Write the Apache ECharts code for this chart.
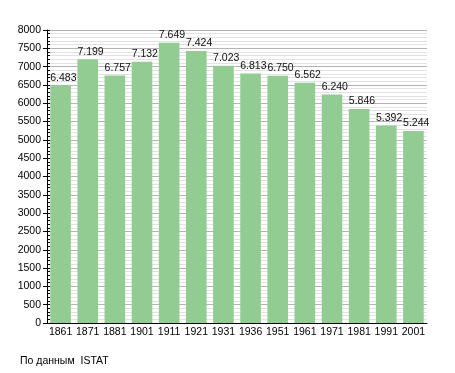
<!DOCTYPE html>
<html><head><meta charset="utf-8">
<script src="https://cdn.jsdelivr.net/npm/echarts@6/dist/echarts.min.js"></script>
<style>html,body{margin:0;padding:0;background:#fff}#c{width:455px;height:373px}</style>
</head><body><div id="c"></div>
<script>
const years = ['1861','1871','1881','1901','1911','1921','1931','1936','1951','1961','1971','1981','1991','2001'];
const population = [6483,7199,6757,7132,7649,7424,7023,6813,6750,6562,6240,5846,5392,5244];
const sourceText = 'По данным  ISTAT';
const FONT = '"Liberation Sans", Arial, sans-serif';
const chart = echarts.init(document.getElementById('c'), null, {renderer:'canvas'});
chart.setOption({
  animation:false,
  backgroundColor:'#fff',
  grid:{left:47,top:30,right:28,bottom:50,containLabel:false},
  graphic:[{type:'text',left:20,top:356,style:{text:sourceText,fontFamily:FONT,fontSize:10.5,fill:'#000'}}],
  xAxis:{type:'category',data:years,
    axisLine:{lineStyle:{color:'#000',width:1}},
    axisTick:{show:false},
    axisLabel:{color:'#000',fontFamily:FONT,fontSize:10.5,margin:4,interval:0}},
  yAxis:[{type:'value',min:0,max:8000,interval:500,
    axisLine:{show:true,lineStyle:{color:'#000'}},
    axisTick:{show:true,length:4,lineStyle:{color:'#000'}},
    axisLabel:{color:'#000',fontFamily:FONT,fontSize:10.5,margin:6,formatter:v=>String(v)},
    splitLine:{show:true,lineStyle:{color:'#b4b4b4',width:1}},
    minorTick:{show:false,splitNumber:5},
    minorSplitLine:{show:true,lineStyle:{color:'#e2e2e2',width:1}}},
   {type:'value',min:0,max:8000,interval:100,position:'left',offset:0,
    axisLine:{show:false},
    axisTick:{show:true,inside:true,length:3,lineStyle:{color:'#000'}},
    axisLabel:{show:false},splitLine:{show:false}}],
  series:[{type:'bar',data:population,barCategoryGap:'24%',
    itemStyle:{color:'#93cc93'},
    label:{show:true,position:[0,-13],align:'left',verticalAlign:'top',color:'#111',fontFamily:FONT,fontSize:10.5,
      formatter:p=>{const v=p.value;return Math.floor(v/1000)+'.'+String(v%1000).padStart(3,'0');}}}]
});
</script></body></html>
